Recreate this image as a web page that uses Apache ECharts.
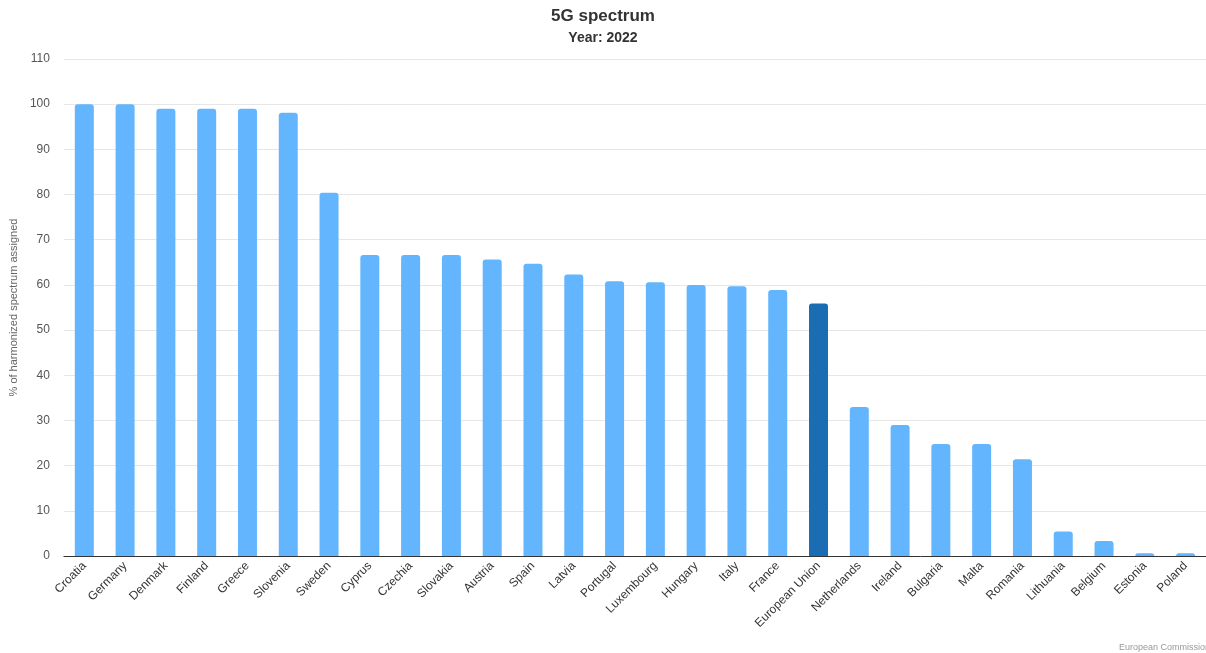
<!DOCTYPE html>
<html>
<head>
<meta charset="utf-8">
<script src="https://cdn.jsdelivr.net/npm/echarts@6/dist/echarts.min.js"></script>
<style>
  html, body { margin: 0; padding: 0; background: #fff; }
  #chart { width: 1206px; height: 653px; }
</style>
</head>
<body>
<div id="chart"></div>
<script>
// Share of harmonised 5G spectrum assigned, by country, 2022
const countries = ["Croatia", "Germany", "Denmark", "Finland", "Greece", "Slovenia", "Sweden", "Cyprus", "Czechia", "Slovakia", "Austria", "Spain", "Latvia", "Portugal", "Luxembourg", "Hungary", "Italy", "France", "European Union", "Netherlands", "Ireland", "Bulgaria", "Malta", "Romania", "Lithuania", "Belgium", "Estonia", "Poland"];
const values = [100, 100, 99.0, 99.0, 99.0, 98.1, 80.4, 66.6, 66.6, 66.6, 65.6, 64.7, 62.3, 60.8, 60.6, 60.0, 59.7, 58.9, 55.9, 33.0, 29.0, 24.8, 24.8, 21.4, 5.4, 3.3, 0.6, 0.6];
const highlighted = ["European Union"];

const barColor = "#63b6fd";
const highlightColor = "#1a6cb3";

const chart = echarts.init(document.getElementById("chart"));
chart.setOption({
  backgroundColor: "#ffffff",
  animation: false,
  title: {
    text: "5G spectrum",
    subtext: "Year: 2022",
    left: "center",
    top: 3,
    itemGap: 6,
    textStyle: { fontFamily: "Liberation Sans, Arial, sans-serif", fontSize: 17, fontWeight: "bold", color: "#333" },
    subtextStyle: { fontFamily: "Liberation Sans, Arial, sans-serif", fontSize: 14, fontWeight: "bold", color: "#333" }
  },
  graphic: [{
    type: "text",
    right: -4,
    bottom: 1,
    style: { text: "European Commission", fontFamily: "Liberation Sans, Arial, sans-serif", fontSize: 9, fill: "#999" }
  }],
  grid: { left: 62, right: -2, top: 59, bottom: 97 },
  xAxis: {
    type: "category",
    data: countries,
    axisTick: { show: false },
    axisLine: { lineStyle: { color: "#333", width: 1 } },
    axisLabel: {
      rotate: 45,
      interval: 0,
      margin: 8,
      fontFamily: "Liberation Sans, Arial, sans-serif",
      fontSize: 12,
      color: "#333"
    }
  },
  yAxis: {
    type: "value",
    min: 0,
    max: 110,
    interval: 10,
    name: "% of harmonized spectrum assigned",
    nameLocation: "middle",
    nameGap: 44,
    nameTextStyle: { fontFamily: "Liberation Sans, Arial, sans-serif", fontSize: 11, color: "#666" },
    axisLine: { show: false },
    axisTick: { show: false },
    axisLabel: { fontFamily: "Liberation Sans, Arial, sans-serif", fontSize: 12, color: "#555", margin: 14 },
    splitLine: { lineStyle: { color: "#e6e6e6" } }
  },
  series: [{
    type: "bar",
    barWidth: 19,
    data: countries.map((c, i) => ({
      value: values[i],
      itemStyle: { color: highlighted.includes(c) ? highlightColor : barColor }
    })),
    itemStyle: { borderRadius: [3, 3, 0, 0] }
  }]
});
</script>
</body>
</html>
